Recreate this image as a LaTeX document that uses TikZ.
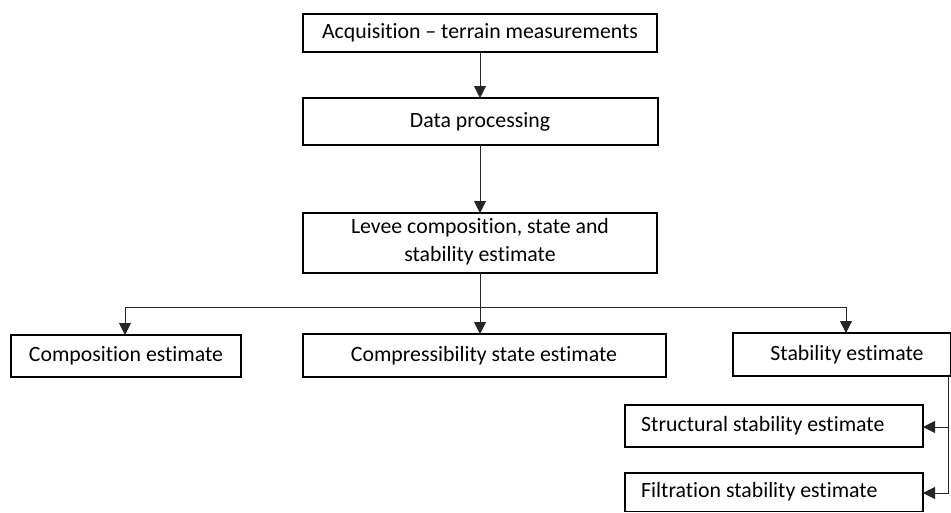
\documentclass[tikz,border=0pt]{standalone}
\usepackage{fontspec}
\setmainfont{Carlito}[Ligatures=NoCommon]
\usetikzlibrary{arrows.meta}
\begin{document}
\begin{tikzpicture}[x=1pt,y=-1pt,
  box/.style={draw=black,line width=1.1pt,inner sep=0pt},
  lbl/.style={font=\fontsize{21.8}{28}\selectfont,inner sep=0pt,align=center},
  conn/.style={draw=black!85,line width=1pt},
  arr/.style={conn,-{Triangle[length=12pt,width=12pt]}}]
\useasboundingbox (0,0) rectangle (951,512);
% boxes
\draw[box] (303,14) rectangle (657,52);
\node[lbl] (a) at (480,33) {Acquisition – terrain measurements};
\draw[box] (303,98) rectangle (658,145);
\node[lbl] (b) at (480,121.5) {Data processing};
\draw[box] (303,213) rectangle (657,273);
\node[lbl] (c) at (480,242) {Levee composition, state and\\stability estimate};
\draw[box] (11,335) rectangle (241,377);
\node[lbl] (d) at (126,356) {Composition estimate};
\draw[box] (303,334) rectangle (666,377);
\node[lbl] (e) at (484,355.5) {Compressibility state estimate};
\draw[box] (733,333) rectangle (950.5,376);
\node[lbl] (f) at (847,354.5) {Stability estimate};
\draw[box] (625,405) rectangle (923,447);
\node[lbl,anchor=west] (g) at (641,426) {Structural stability estimate};
\draw[box] (625,473) rectangle (923,511.5);
\node[lbl,anchor=west] (h) at (641,492) {Filtration stability estimate};
% named anchor coordinates
\coordinate (a1) at (480,52);
\coordinate (b0) at (480,98);
\coordinate (b1) at (480,145);
\coordinate (c0) at (480,213);
\coordinate (c1) at (480,273);
\coordinate (j) at (480,307);
\coordinate (d0) at (125,335);
\coordinate (e0) at (480,334);
\coordinate (f0) at (846,333);
\coordinate (f1) at (948,376);
\coordinate (g1) at (923,427);
\coordinate (h1) at (923,493);
% connectors
\draw[arr] (a1) -- (b0);
\draw[arr] (b1) -- (c0);
\draw[conn] (c1) -- (j);
\draw[arr] (j) -- (e0);
\draw[arr] (j) -| (d0);
\draw[arr] (j) -| (f0);
\draw[arr] (f1) |- (g1);
\draw[arr] (f1) |- (h1);
\end{tikzpicture}
\end{document}
